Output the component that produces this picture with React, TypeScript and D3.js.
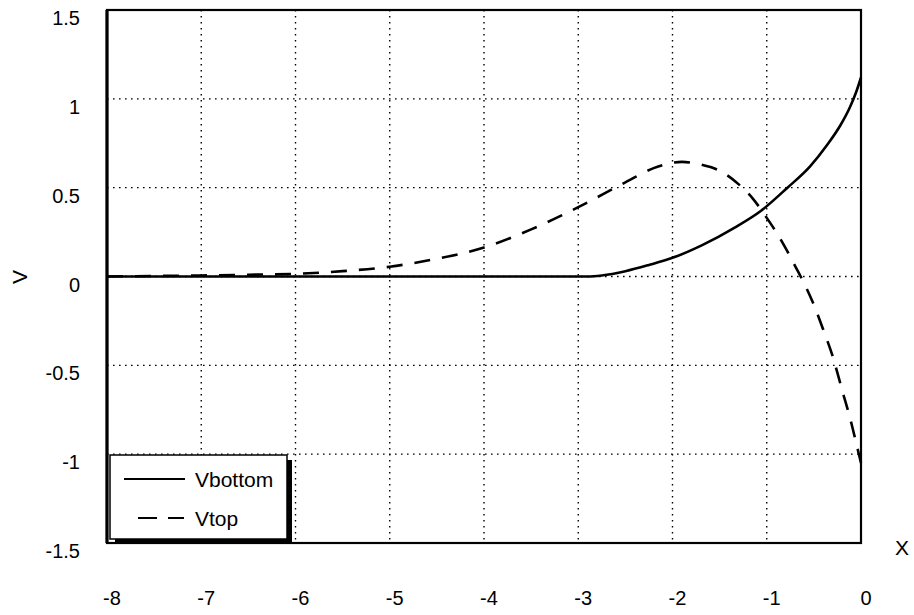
import React from "react";
import * as d3 from "d3";

// Potential along the channel: bottom and top electrode curves
const xBottom = [-8, -3.5, -2.9, -2.75, -2.5, -2.25, -2, -1.69, -1.34, -1.06, -0.78, -0.54, -0.36, -0.22, -0.12, -0.05, 0];
const vBottom = [0, 0, 0, 0.006, 0.03, 0.065, 0.105, 0.175, 0.275, 0.37, 0.5, 0.62, 0.74, 0.85, 0.95, 1.04, 1.12];

const xTop = [-8, -7.5, -7, -6.5, -6, -5.5, -5, -4.5, -4, -3.5, -3, -2.5, -2.2, -2, -1.9, -1.7, -1.5, -1.3, -1.15, -1, -0.9, -0.8, -0.7, -0.64, -0.5, -0.4, -0.3, -0.2, -0.1, -0.05, 0];
const vTop = [0, 0.003, 0.006, 0.01, 0.015, 0.03, 0.055, 0.1, 0.163, 0.265, 0.39, 0.53, 0.61, 0.64, 0.645, 0.63, 0.595, 0.52, 0.44, 0.33, 0.25, 0.16, 0.06, 0, -0.16, -0.3, -0.45, -0.64, -0.83, -0.94, -1.05];

const xTicks = [-8, -7, -6, -5, -4, -3, -2, -1, 0];
const yTicks = [1.5, 1, 0.5, 0, -0.5, -1, -1.5];
const seriesNames = ["Vbottom", "Vtop"];

const W = 914;
const H = 615;
const left = 107;
const right = 861;
const top = 10;
const bottom = 543;
const font = "'Liberation Sans', Arial, sans-serif";

export default function App() {
  const x = d3.scaleLinear().domain([-8, 0]).range([left, right]);
  const y = d3.scaleLinear().domain([-1.5, 1.5]).range([bottom, top]);

  const line = d3
    .line<[number, number]>()
    .x((d) => x(d[0]))
    .y((d) => y(d[1]))
    .curve(d3.curveMonotoneX);

  const bottomPath = line(xBottom.map((v, i) => [v, vBottom[i]]) as [number, number][]) || "";
  const topPath = line(xTop.map((v, i) => [v, vTop[i]]) as [number, number][]) || "";

  const lgX = 110;
  const lgY = 455;
  const lgW = 177;
  const lgH = 84;

  return (
    <svg
      width={W}
      height={H}
      style={{ position: "absolute", left: 0, top: 0, background: "#fff" }}
      fontFamily={font}
    >
      <rect x={0} y={0} width={W} height={H} fill="#fff" />

      {/* dotted grid */}
      {xTicks.slice(1, -1).map((t) => (
        <line
          key={"gx" + t}
          x1={x(t)}
          x2={x(t)}
          y1={top}
          y2={bottom}
          stroke="#000"
          strokeWidth={1.4}
          strokeDasharray="1.6,4.4"
        />
      ))}
      {yTicks.slice(1, -1).map((t) => (
        <line
          key={"gy" + t}
          x1={left}
          x2={right}
          y1={y(t)}
          y2={y(t)}
          stroke="#000"
          strokeWidth={1.4}
          strokeDasharray="1.6,4.4"
        />
      ))}

      {/* series */}
      <path d={bottomPath} fill="none" stroke="#000" strokeWidth={2.6} />
      <path d={topPath} fill="none" stroke="#000" strokeWidth={2.6} strokeDasharray="16,12" />

      {/* plot frame */}
      <rect x={left} y={top} width={right - left} height={bottom - top} fill="none" stroke="#000" strokeWidth={2.2} />
      <line x1={left} x2={left} y1={top} y2={bottom} stroke="#000" strokeWidth={3.2} />

      {/* legend */}
      <rect x={lgX + 5} y={lgY + 5} width={lgW} height={lgH} fill="#000" />
      <rect x={lgX} y={lgY} width={lgW} height={lgH} fill="#fff" stroke="#000" strokeWidth={1.5} />
      <line x1={124} x2={185} y1={479} y2={479} stroke="#000" strokeWidth={2.2} />
      <line x1={138} x2={184} y1={518} y2={518} stroke="#000" strokeWidth={2.2} strokeDasharray="19,11" />
      <text x={195} y={487} fontSize={21}>{seriesNames[0]}</text>
      <text x={195} y={526} fontSize={21}>{seriesNames[1]}</text>

      {/* y tick labels */}
      {yTicks.map((t) => (
        <text key={"yl" + t} x={80} y={y(t) + 15} fontSize={20} textAnchor="end">
          {String(t)}
        </text>
      ))}

      {/* x tick labels */}
      {xTicks.map((t) => (
        <text key={"xl" + t} x={x(t) + 5} y={605} fontSize={20} textAnchor="middle">
          {String(t)}
        </text>
      ))}

      {/* axis titles */}
      <text x={902} y={555} fontSize={21} textAnchor="middle">X</text>
      <text transform="translate(27,277) rotate(-90)" fontSize={21} textAnchor="middle">V</text>
    </svg>
  );
}
